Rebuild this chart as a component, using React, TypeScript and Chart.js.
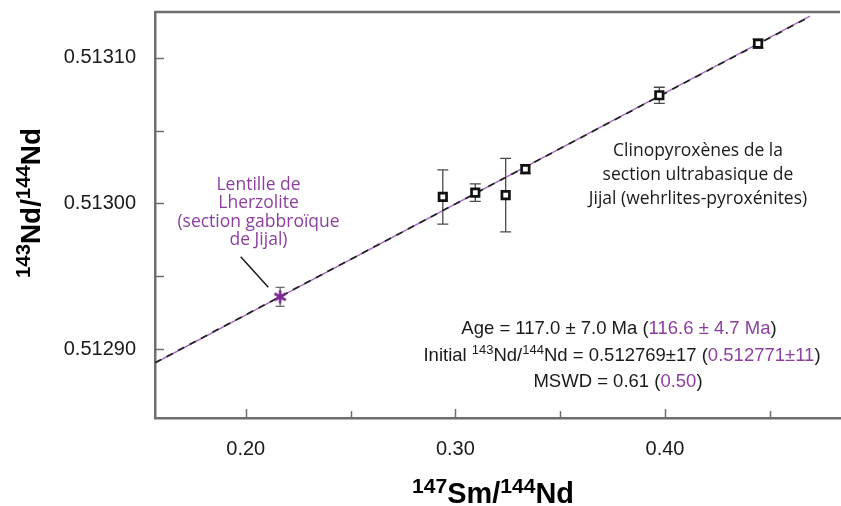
import React, { useEffect, useRef } from 'react';
import { Chart, registerables } from 'chart.js';

Chart.register(...registerables);

const W = 841;
const H = 506;

// Clinopyroxenes (section ultrabasique de Jijal)
const cpxSmNd = [0.294, 0.3095, 0.324, 0.3334, 0.3973, 0.4444];
const cpxNdNd = [0.5130045, 0.5130075, 0.5130057, 0.5130235, 0.5130742, 0.5131096];
const cpxErr = [0.0000186, 0.000006, 0.0000252, 0.000003, 0.0000055, 0.000003];

// Lentille de Lherzolite
const lherzSmNd = [0.2164];
const lherzNdNd = [0.512936];
const lherzErr = [0.0000065];

// Isochron lines (end points)
const isoX = [0.1567, 0.4692];
const isoBlackY = [0.5128908, 0.5131282];
const isoPurpleY = [0.5128906, 0.5131285];

// Axes
const xRange = [0.1567, 0.4835];
const yRange = [0.5128529, 0.5131313];
const xTickValues = [0.2, 0.25, 0.3, 0.35, 0.4, 0.45];
const xTickLabels = ['0.20', '', '0.30', '', '0.40', ''];
const yTickValues = [0.5129, 0.51295, 0.513, 0.51305, 0.5131];
const yTickLabels = ['0.51290', '', '0.51300', '', '0.51310'];

const lentilleLines = ['Lentille de', 'Lherzolite', '(section gabbroïque', 'de Jijal)'];
const clinoLines = ['Clinopyroxènes de la', 'section ultrabasique de', 'Jijal (wehrlites-pyroxénites)'];

const PURPLE_TEXT = '#8d3fa0';
const PURPLE_STAR = '#7a2a8e';
const PURPLE_LINE = '#a46cc0';
const AXIS = '#6e6e6e';
const SANS = "'Liberation Sans', Arial, sans-serif";
const MYRIAD = "'Open Sans', 'Noto Sans', sans-serif";

type Seg = { t: string; c?: string; sup?: boolean };

function richWidth(ctx: CanvasRenderingContext2D, segs: Seg[], size: number, supSize: number, family: string, weight: string) {
  let total = 0;
  for (const s of segs) {
    ctx.font = `${weight} ${s.sup ? supSize : size}px ${family}`;
    total += ctx.measureText(s.t).width;
  }
  return total;
}

function drawRich(
  ctx: CanvasRenderingContext2D,
  segs: Seg[],
  cx: number,
  baseY: number,
  size: number,
  supSize: number,
  supRise: number,
  family: string,
  weight: string,
  color: string
) {
  const total = richWidth(ctx, segs, size, supSize, family, weight);
  let x = cx - total / 2;
  ctx.textAlign = 'left';
  ctx.textBaseline = 'alphabetic';
  for (const s of segs) {
    ctx.font = `${weight} ${s.sup ? supSize : size}px ${family}`;
    ctx.fillStyle = s.c || color;
    ctx.fillText(s.t, x, baseY - (s.sup ? supRise : 0));
    x += ctx.measureText(s.t).width;
  }
}

function makeAsterisk(): HTMLCanvasElement {
  const c = document.createElement('canvas');
  c.width = 16;
  c.height = 16;
  const g = c.getContext('2d') as CanvasRenderingContext2D;
  g.strokeStyle = PURPLE_STAR;
  g.lineWidth = 2.6;
  g.lineCap = 'butt';
  const r = 6.5;
  g.beginPath();
  [90, 30, 150].forEach((deg) => {
    const a = (deg * Math.PI) / 180;
    g.moveTo(8 - r * Math.cos(a), 8 - r * Math.sin(a));
    g.lineTo(8 + r * Math.cos(a), 8 + r * Math.sin(a));
  });
  g.stroke();
  return c;
}

const zeroPad = (s: any) => {
  s.paddingTop = 0;
  s.paddingBottom = 0;
  s.paddingLeft = 0;
  s.paddingRight = 0;
};

const decor = {
  id: 'decor',
  beforeDatasetsDraw(chart: any) {
    const { ctx, scales } = chart;
    const x = scales.x;
    const y = scales.y;
    ctx.save();
    const drawErr = (xs: number[], ys: number[], es: number[], color: string, cap: number) => {
      ctx.strokeStyle = color;
      ctx.lineWidth = 1.3;
      xs.forEach((xv, i) => {
        const px = x.getPixelForValue(xv);
        const y1 = y.getPixelForValue(ys[i] + es[i]);
        const y2 = y.getPixelForValue(ys[i] - es[i]);
        ctx.beginPath();
        ctx.moveTo(px, y1);
        ctx.lineTo(px, y2);
        ctx.moveTo(px - cap, y1);
        ctx.lineTo(px + cap, y1);
        ctx.moveTo(px - cap, y2);
        ctx.lineTo(px + cap, y2);
        ctx.stroke();
      });
    };
    drawErr(cpxSmNd, cpxNdNd, cpxErr, '#4a4a4a', 5.5);
    drawErr(lherzSmNd, lherzNdNd, lherzErr, '#6a6a6a', 4.5);
    ctx.restore();
  },
  afterDraw(chart: any) {
    const { ctx, chartArea: a, scales } = chart;
    const x = scales.x;
    const y = scales.y;
    ctx.save();
    // top frame line
    ctx.strokeStyle = AXIS;
    ctx.lineWidth = 2.5;
    ctx.beginPath();
    ctx.moveTo(a.left, a.top);
    ctx.lineTo(a.right, a.top);
    ctx.stroke();
    // inner ticks
    ctx.lineWidth = 1.5;
    ctx.beginPath();
    xTickValues.forEach((v, i) => {
      const px = Math.round(x.getPixelForValue(v)) + 0.5;
      const len = xTickLabels[i] ? 9 : 7;
      ctx.moveTo(px, a.bottom);
      ctx.lineTo(px, a.bottom - len);
    });
    yTickValues.forEach((v) => {
      const py = Math.round(y.getPixelForValue(v)) + 0.5;
      ctx.moveTo(a.left, py);
      ctx.lineTo(a.left + 9, py);
    });
    ctx.stroke();

    // leader line
    ctx.strokeStyle = '#1a1a1a';
    ctx.lineWidth = 1.5;
    ctx.beginPath();
    ctx.moveTo(240.7, 256.7);
    ctx.lineTo(268.3, 287.3);
    ctx.stroke();

    // Lentille text
    ctx.fillStyle = PURPLE_TEXT;
    ctx.font = `17.5px ${MYRIAD}`;
    ctx.textAlign = 'center';
    ctx.textBaseline = 'middle';
    lentilleLines.forEach((t, i) => ctx.fillText(t, 258.5, 185 + i * 18.4));

    // Clino text
    ctx.fillStyle = '#1a1a1a';
    clinoLines.forEach((t, i) => ctx.fillText(t, 698, 151.5 + i * 23.8));

    // stats
    const dark = '#1a1a1a';
    drawRich(ctx, [
      { t: 'Age = 117.0 ± 7.0 Ma (' },
      { t: '116.6 ± 4.7 Ma', c: PURPLE_TEXT },
      { t: ')' },
    ], 619, 334, 18.5, 13, 7, SANS, '', dark);
    drawRich(ctx, [
      { t: 'Initial ' },
      { t: '143', sup: true },
      { t: 'Nd/' },
      { t: '144', sup: true },
      { t: 'Nd = 0.512769±17 (' },
      { t: '0.512771±11', c: PURPLE_TEXT },
      { t: ')' },
    ], 622, 361, 18.5, 13, 7, SANS, '', dark);
    drawRich(ctx, [
      { t: 'MSWD = 0.61 (' },
      { t: '0.50', c: PURPLE_TEXT },
      { t: ')' },
    ], 618, 387, 18.5, 13, 7, SANS, '', dark);

    // x axis title
    const xt: Seg[] = [{ t: '147', sup: true }, { t: 'Sm/' }, { t: '144', sup: true }, { t: 'Nd' }];
    let k = 162 / richWidth(ctx, xt, 26, 19, SANS, 'bold');
    drawRich(ctx, xt, 493, 503, 26 * k, 19 * k, 10, SANS, 'bold', '#000');

    // y axis title
    const yt: Seg[] = [{ t: '143', sup: true }, { t: 'Nd/' }, { t: '144', sup: true }, { t: 'Nd' }];
    k = 150 / richWidth(ctx, yt, 26, 19, SANS, 'bold');
    ctx.translate(40, 203);
    ctx.rotate(-Math.PI / 2);
    drawRich(ctx, yt, 0, 0, 26 * k, 19 * k, 10, SANS, 'bold', '#000');
    ctx.restore();
  },
};

export default function App() {
  const ref = useRef<HTMLCanvasElement>(null);
  useEffect(() => {
    document.body.style.margin = '0';
    const chart = new Chart(ref.current as HTMLCanvasElement, {
      type: 'scatter',
      data: {
        datasets: [
          {
            label: 'Clinopyroxènes',
            data: cpxSmNd.map((v, i) => ({ x: v, y: cpxNdNd[i] })),
            pointStyle: 'rect',
            pointRadius: 5.3,
            pointBackgroundColor: '#ffffff',
            pointBorderColor: '#111111',
            pointBorderWidth: 2.7,
            order: 0,
          },
          {
            label: 'Lherzolite',
            data: lherzSmNd.map((v, i) => ({ x: v, y: lherzNdNd[i] })),
            pointStyle: makeAsterisk(),
            pointRadius: 8,
            order: 0,
          },
          {
            type: 'line',
            label: 'isochron black',
            data: isoX.map((v, i) => ({ x: v, y: isoBlackY[i] })),
            borderColor: '#222222',
            borderWidth: 1.7,
            borderDash: [7, 6],
            pointRadius: 0,
            order: 1,
          } as any,
          {
            type: 'line',
            label: 'isochron purple',
            data: isoX.map((v, i) => ({ x: v, y: isoPurpleY[i] })),
            borderColor: PURPLE_LINE,
            borderWidth: 1.4,
            pointRadius: 0,
            order: 2,
          } as any,
        ],
      },
      options: {
        responsive: false,
        animation: false,
        devicePixelRatio: 1,
        layout: { autoPadding: false, padding: { top: 12, right: 1, left: 0, bottom: 0 } },
        plugins: { legend: { display: false }, tooltip: { enabled: false } },
        scales: {
          x: {
            type: 'linear',
            min: xRange[0],
            max: xRange[1],
            afterBuildTicks: (s: any) => {
              s.ticks = xTickValues.map((v) => ({ value: v }));
            },
            afterFit: (s: any) => {
              s.height = 88;
              zeroPad(s);
            },
            ticks: {
              autoSkip: false,
              maxRotation: 0,
              padding: 19,
              color: '#1a1a1a',
              font: { family: SANS, size: 20 },
              callback: (_v: any, i: number) => xTickLabels[i],
            },
            grid: { display: false, drawTicks: false },
            border: { display: true, color: AXIS, width: 2.5 },
          },
          y: {
            type: 'linear',
            min: yRange[0],
            max: yRange[1],
            afterBuildTicks: (s: any) => {
              s.ticks = yTickValues.map((v) => ({ value: v }));
            },
            afterFit: (s: any) => {
              s.width = 155;
              zeroPad(s);
            },
            ticks: {
              autoSkip: false,
              padding: 19,
              color: '#1a1a1a',
              font: { family: SANS, size: 20 },
              callback: (_v: any, i: number) => yTickLabels[i],
            },
            grid: { display: false, drawTicks: false },
            border: { display: true, color: AXIS, width: 2.5 },
          },
        },
      },
      plugins: [decor],
    });
    return () => chart.destroy();
  }, []);
  return (
    <div style={{ width: W, height: H, background: '#fff' }}>
      <canvas ref={ref} width={W} height={H} style={{ display: 'block' }} />
    </div>
  );
}
